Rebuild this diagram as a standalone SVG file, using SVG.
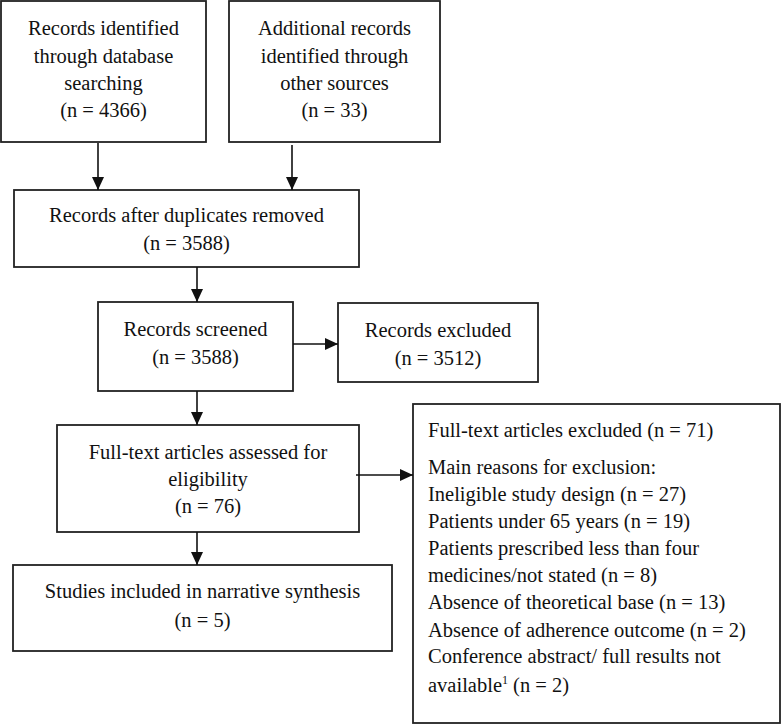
<svg xmlns="http://www.w3.org/2000/svg" width="782" height="725" viewBox="0 0 782 725">
<style>
rect{fill:#fff;stroke:#222;stroke-width:1.8}
text{font-family:"Liberation Serif","Times New Roman",serif;font-size:20.5px;fill:#111}
.c{text-anchor:middle}
.l{fill:none;stroke:#111;stroke-width:1.6}
</style>
<defs>
<marker id="ah" markerUnits="userSpaceOnUse" markerWidth="14" markerHeight="14" viewBox="0 0 14 14" refX="13" refY="7" orient="auto">
<path d="M0,1 L13,7 L0,13 Z" fill="#111"/>
</marker>
</defs>
<g id="n1"><rect x="1" y="1" width="205" height="141"/>
<text class="c" x="103.5" y="35">Records identified</text>
<text class="c" x="103.5" y="63">through database</text>
<text class="c" x="103.5" y="90">searching</text>
<text class="c" x="103.5" y="117">(n = 4366)</text></g>
<g id="n2"><rect x="229" y="1" width="211" height="141"/>
<text class="c" x="334.5" y="35">Additional records</text>
<text class="c" x="334.5" y="63">identified through</text>
<text class="c" x="334.5" y="90">other sources</text>
<text class="c" x="334.5" y="117">(n = 33)</text></g>
<g id="n3"><rect x="14" y="190" width="345" height="77"/>
<text class="c" x="186.5" y="222">Records after duplicates removed</text>
<text class="c" x="186.5" y="250">(n = 3588)</text></g>
<g id="n4"><rect x="98" y="302" width="195" height="89"/>
<text class="c" x="195.5" y="336">Records screened</text>
<text class="c" x="195.5" y="364">(n = 3588)</text></g>
<g id="n5"><rect x="338" y="303" width="200" height="79"/>
<text class="c" x="438" y="337">Records excluded</text>
<text class="c" x="438" y="365">(n = 3512)</text></g>
<g id="n6"><rect x="57" y="425" width="302" height="107"/>
<text class="c" x="208" y="459">Full-text articles assessed for</text>
<text class="c" x="208" y="486">eligibility</text>
<text class="c" x="208" y="513">(n = 76)</text></g>
<g id="n7"><rect x="413" y="404" width="367" height="319"/>
<text x="428" y="437">Full-text articles excluded (n = 71)</text>
<text x="428" y="474">Main reasons for exclusion:</text>
<text x="428" y="501">Ineligible study design (n = 27)</text>
<text x="428" y="528">Patients under 65 years (n = 19)</text>
<text x="428" y="555">Patients prescribed less than four</text>
<text x="428" y="582">medicines/not stated (n = 8)</text>
<text x="428" y="609">Absence of theoretical base (n = 13)</text>
<text x="428" y="637">Absence of adherence outcome (n = 2)</text>
<text x="428" y="663">Conference abstract/ full results not</text>
<text x="428" y="692">available<tspan font-size="12" dy="-8">1</tspan><tspan dy="8"> (n = 2)</tspan></text></g>
<g id="n8"><rect x="13" y="565" width="379" height="86"/>
<text class="c" x="202.5" y="598">Studies included in narrative synthesis</text>
<text class="c" x="202.5" y="627">(n = 5)</text></g>
<g id="connectors">
<line class="l" x1="98" y1="143" x2="98" y2="190" marker-end="url(#ah)"/>
<line class="l" x1="292" y1="145" x2="292" y2="190" marker-end="url(#ah)"/>
<line class="l" x1="197" y1="267" x2="197" y2="302" marker-end="url(#ah)"/>
<line class="l" x1="293" y1="344" x2="338" y2="344" marker-end="url(#ah)"/>
<line class="l" x1="197" y1="391" x2="197" y2="425" marker-end="url(#ah)"/>
<line class="l" x1="356" y1="475" x2="413" y2="475" marker-end="url(#ah)"/>
<line class="l" x1="197" y1="532" x2="197" y2="565" marker-end="url(#ah)"/>
</g>
</svg>
